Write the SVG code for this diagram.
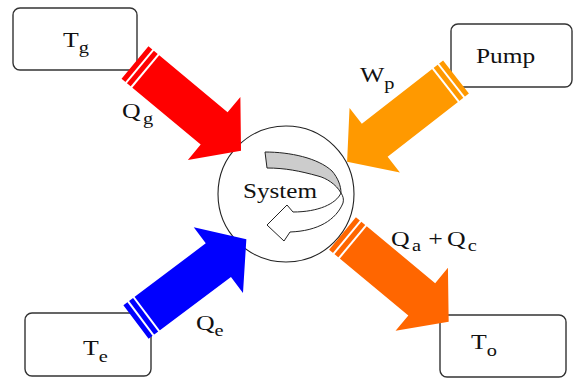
<svg xmlns="http://www.w3.org/2000/svg" xmlns:xlink="http://www.w3.org/1999/xlink" width="573" height="379" viewBox="0 0 573 379">
<style>
.box{fill:#fff;stroke:#333;stroke-width:1.4}
.lbl{font-family:"Liberation Serif","Times New Roman",serif;font-size:21.5px;fill:#111}
.sub{font-size:17px}
.stripe{stroke:#fff;stroke-width:2;fill:none}
</style>
<defs>
<g id="fat">
<path d="M0,-21 L103,-21 L103,-41 L138,0 L103,41 L103,21 L0,21 Z"/>
<line class="stripe" x1="6" y1="-24" x2="6" y2="24"/>
<line class="stripe" x1="13" y1="-24" x2="13" y2="24"/>
</g>
</defs>
<rect width="573" height="379" fill="#fff"/>
<g id="node-tg">
<rect class="box" x="13" y="8" width="124" height="62" rx="7"/>
<text class="lbl" transform="translate(63,47) scale(1.2,1)">T<tspan class="sub" dy="6">g</tspan></text>
</g>
<g id="node-pump">
<rect class="box" x="451" y="24" width="121" height="63" rx="7"/>
<text class="lbl" transform="translate(476,63) scale(1.18,1)">Pump</text>
</g>
<g id="node-te">
<rect class="box" x="25" y="313" width="126" height="63" rx="7"/>
<text class="lbl" transform="translate(83,355) scale(1.2,1)">T<tspan class="sub" dy="7">e</tspan></text>
</g>
<g id="node-to">
<rect class="box" x="440" y="315" width="126" height="62" rx="7"/>
<text class="lbl" transform="translate(471,349) scale(1.2,1)">T<tspan class="sub" dy="7">o</tspan></text>
</g>
<g id="node-system">
<circle cx="286" cy="194" r="68" fill="#fff" stroke="#222" stroke-width="1.1"/>
<path d="M265,152 C290,152 318,158 332,171 C338,178 341,186 341,193 C336,184 326,178 318,176 C300,171 285,168 267,168 Z" fill="#ccc" stroke="#222" stroke-width="1"/>
<path d="M341,193 C336,204 318,212 293,212 L287,205 L267,225 L284,241 L290,232 C318,231 336,220 343,203 C344,199 343,196 341,193 Z" fill="#fff" stroke="#222" stroke-width="1"/>
<text class="lbl" transform="translate(243,198) scale(1.17,1)">System</text>
</g>
<g id="connectors">
<use xlink:href="#fat" fill="#ff0000" transform="translate(135,62.5) rotate(39.8)"/>
<use xlink:href="#fat" fill="#ff9900" transform="translate(456,77) rotate(142.1)"/>
<use xlink:href="#fat" fill="#0000ff" transform="translate(136,322) rotate(-36.9)"/>
<use xlink:href="#fat" fill="#ff6600" transform="translate(342.5,233.5) rotate(39.7)"/>
<text class="lbl" transform="translate(122,118) scale(1.2,1)">Q<tspan class="sub" dx="2" dy="6">g</tspan></text>
<text class="lbl" transform="translate(360,82) scale(1.2,1)">W<tspan class="sub" dy="7">p</tspan></text>
<text class="lbl" transform="translate(196,330) scale(1.2,1)">Q<tspan class="sub" dy="6">e</tspan></text>
<text class="lbl" transform="translate(391,246) scale(1.2,1)">Q<tspan class="sub" dx="2" dy="5">a</tspan><tspan x="31" dy="-5">+</tspan><tspan x="46.7">Q</tspan><tspan class="sub" x="64" dy="5">c</tspan></text>
</g>
</svg>
